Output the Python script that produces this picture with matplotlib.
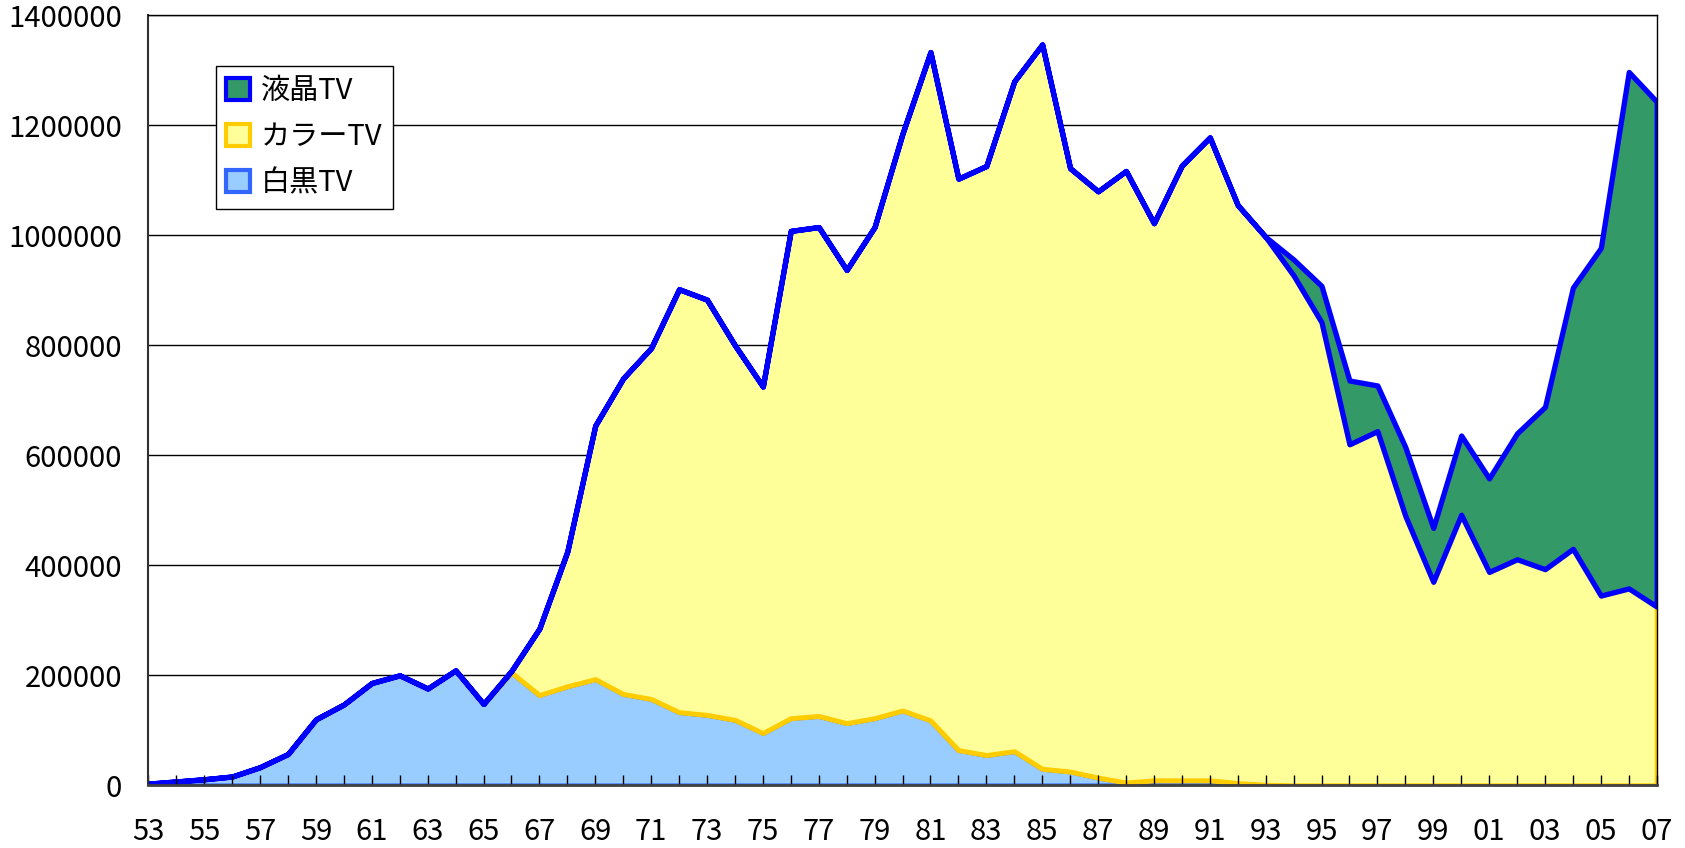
import matplotlib
matplotlib.use('Agg')
import matplotlib.pyplot as plt
from matplotlib.patches import Patch
import numpy as np

plt.rcParams['font.family'] = ['Noto Sans CJK JP', 'DejaVu Sans']

years = list(range(1953, 2008))

# 白黒TV
bw = [3000, 7000, 11000, 16000, 33000, 57000, 120000, 147000, 186000, 200000,      # 53-62
      176000, 209000, 148000, 205000, 164000, 180000, 193000, 166000, 157000, 133000,  # 63-72
      128000, 119000, 95000, 122000, 126000, 113000, 122000, 136000, 118000, 64000,   # 73-82
      55000, 62000, 30000, 25000, 14000, 5000, 9000, 9000, 9000, 4000,                # 83-92
      1000, 0, 0, 0, 0, 0, 0, 0, 0, 0,                                               # 93-02
      0, 0, 0, 0, 0]                                                                 # 03-07

# カラーTV
color = [0, 0, 0, 0, 0, 0, 0, 0, 0, 0,
         0, 0, 0, 3000, 121000, 245000, 461000, 574000, 638000, 769000,
         755000, 681000, 630000, 886000, 889000, 824000, 893000, 1049000, 1215000, 1039000,
         1071000, 1218000, 1317000, 1097000, 1066000, 1112000, 1013000, 1118000, 1169000, 1051000,
         996000, 927000, 842000, 620000, 644000, 490000, 370000, 492000, 388000, 411000,
         393000, 430000, 345000, 358000, 325000]

# 液晶TV
lcd = [0, 0, 0, 0, 0, 0, 0, 0, 0, 0,
       0, 0, 0, 0, 0, 0, 0, 0, 0, 0,
       0, 0, 0, 0, 0, 0, 0, 0, 0, 0,
       0, 0, 0, 0, 0, 0, 0, 0, 0, 0,
       0, 29000, 66000, 116000, 83000, 125000, 98000, 144000, 170000, 229000,
       295000, 475000, 632000, 939000, 918000]

labels = ['液晶TV', 'カラーTV', '白黒TV']

W, H = 1685, 848
fig = plt.figure(figsize=(W / 100, H / 100), dpi=100)
ax = fig.add_axes([148.3 / W, 1 - 785.3 / H, (1656.7 - 148.3) / W, (785.3 - 15.3) / H])

x = np.arange(len(years))
s1 = np.array(bw)
s2 = s1 + np.array(color)
s3 = s2 + np.array(lcd)

ax.fill_between(x, 0, s1, facecolor='#99CCFF', edgecolor='#3366FF', linewidth=3.4, zorder=1)
ax.fill_between(x, s1, s2, facecolor='#FFFF99', edgecolor='#FFCC00', linewidth=3.6, zorder=1.1)
ax.fill_between(x, s2, s3, facecolor='#339966', edgecolor='#0000FF', linewidth=3.8, zorder=1.2)

ax.set_xlim(0, len(years) - 1)
ax.set_ylim(0, 1400000)

yt = np.arange(0, 1400001, 200000)
ax.set_yticks(yt)
ax.set_yticklabels([str(v) for v in yt])
ax.hlines(yt[1:], 0, len(years) - 1, colors='black', linewidth=1, zorder=0.5)

ax.set_xticks(x)
ax.set_xticklabels([f"{y % 100:02d}" if i % 2 == 0 else "" for i, y in enumerate(years)])

ax.tick_params(axis='x', direction='in', length=7, width=1, pad=23, labelsize=21)
ax.tick_params(axis='y', length=0, pad=19, labelsize=21)

for side in ['top', 'right']:
    ax.spines[side].set_linewidth(1)
    ax.spines[side].set_color('black')
ax.spines['left'].set_linewidth(1.5)
ax.spines['left'].set_color('#303030')
ax.spines['bottom'].set_linewidth(2)
ax.spines['bottom'].set_color('#404040')

handles = [Patch(facecolor='#339966', edgecolor='#0000FF', linewidth=3),
           Patch(facecolor='#FFFF99', edgecolor='#FFCC00', linewidth=3),
           Patch(facecolor='#99CCFF', edgecolor='#3366FF', linewidth=3)]
leg = ax.legend(handles, labels, loc='upper left', bbox_to_anchor=(216 / W, 1 - 66 / H),
                bbox_transform=fig.transFigure, fontsize=21, frameon=True, fancybox=False,
                edgecolor='black', framealpha=1, borderaxespad=0, handlelength=0.8,
                handleheight=0.8, handletextpad=0.4, labelspacing=0.55, borderpad=0.35)
leg.get_frame().set_linewidth(1)

fig.savefig('out.png', dpi=100)
